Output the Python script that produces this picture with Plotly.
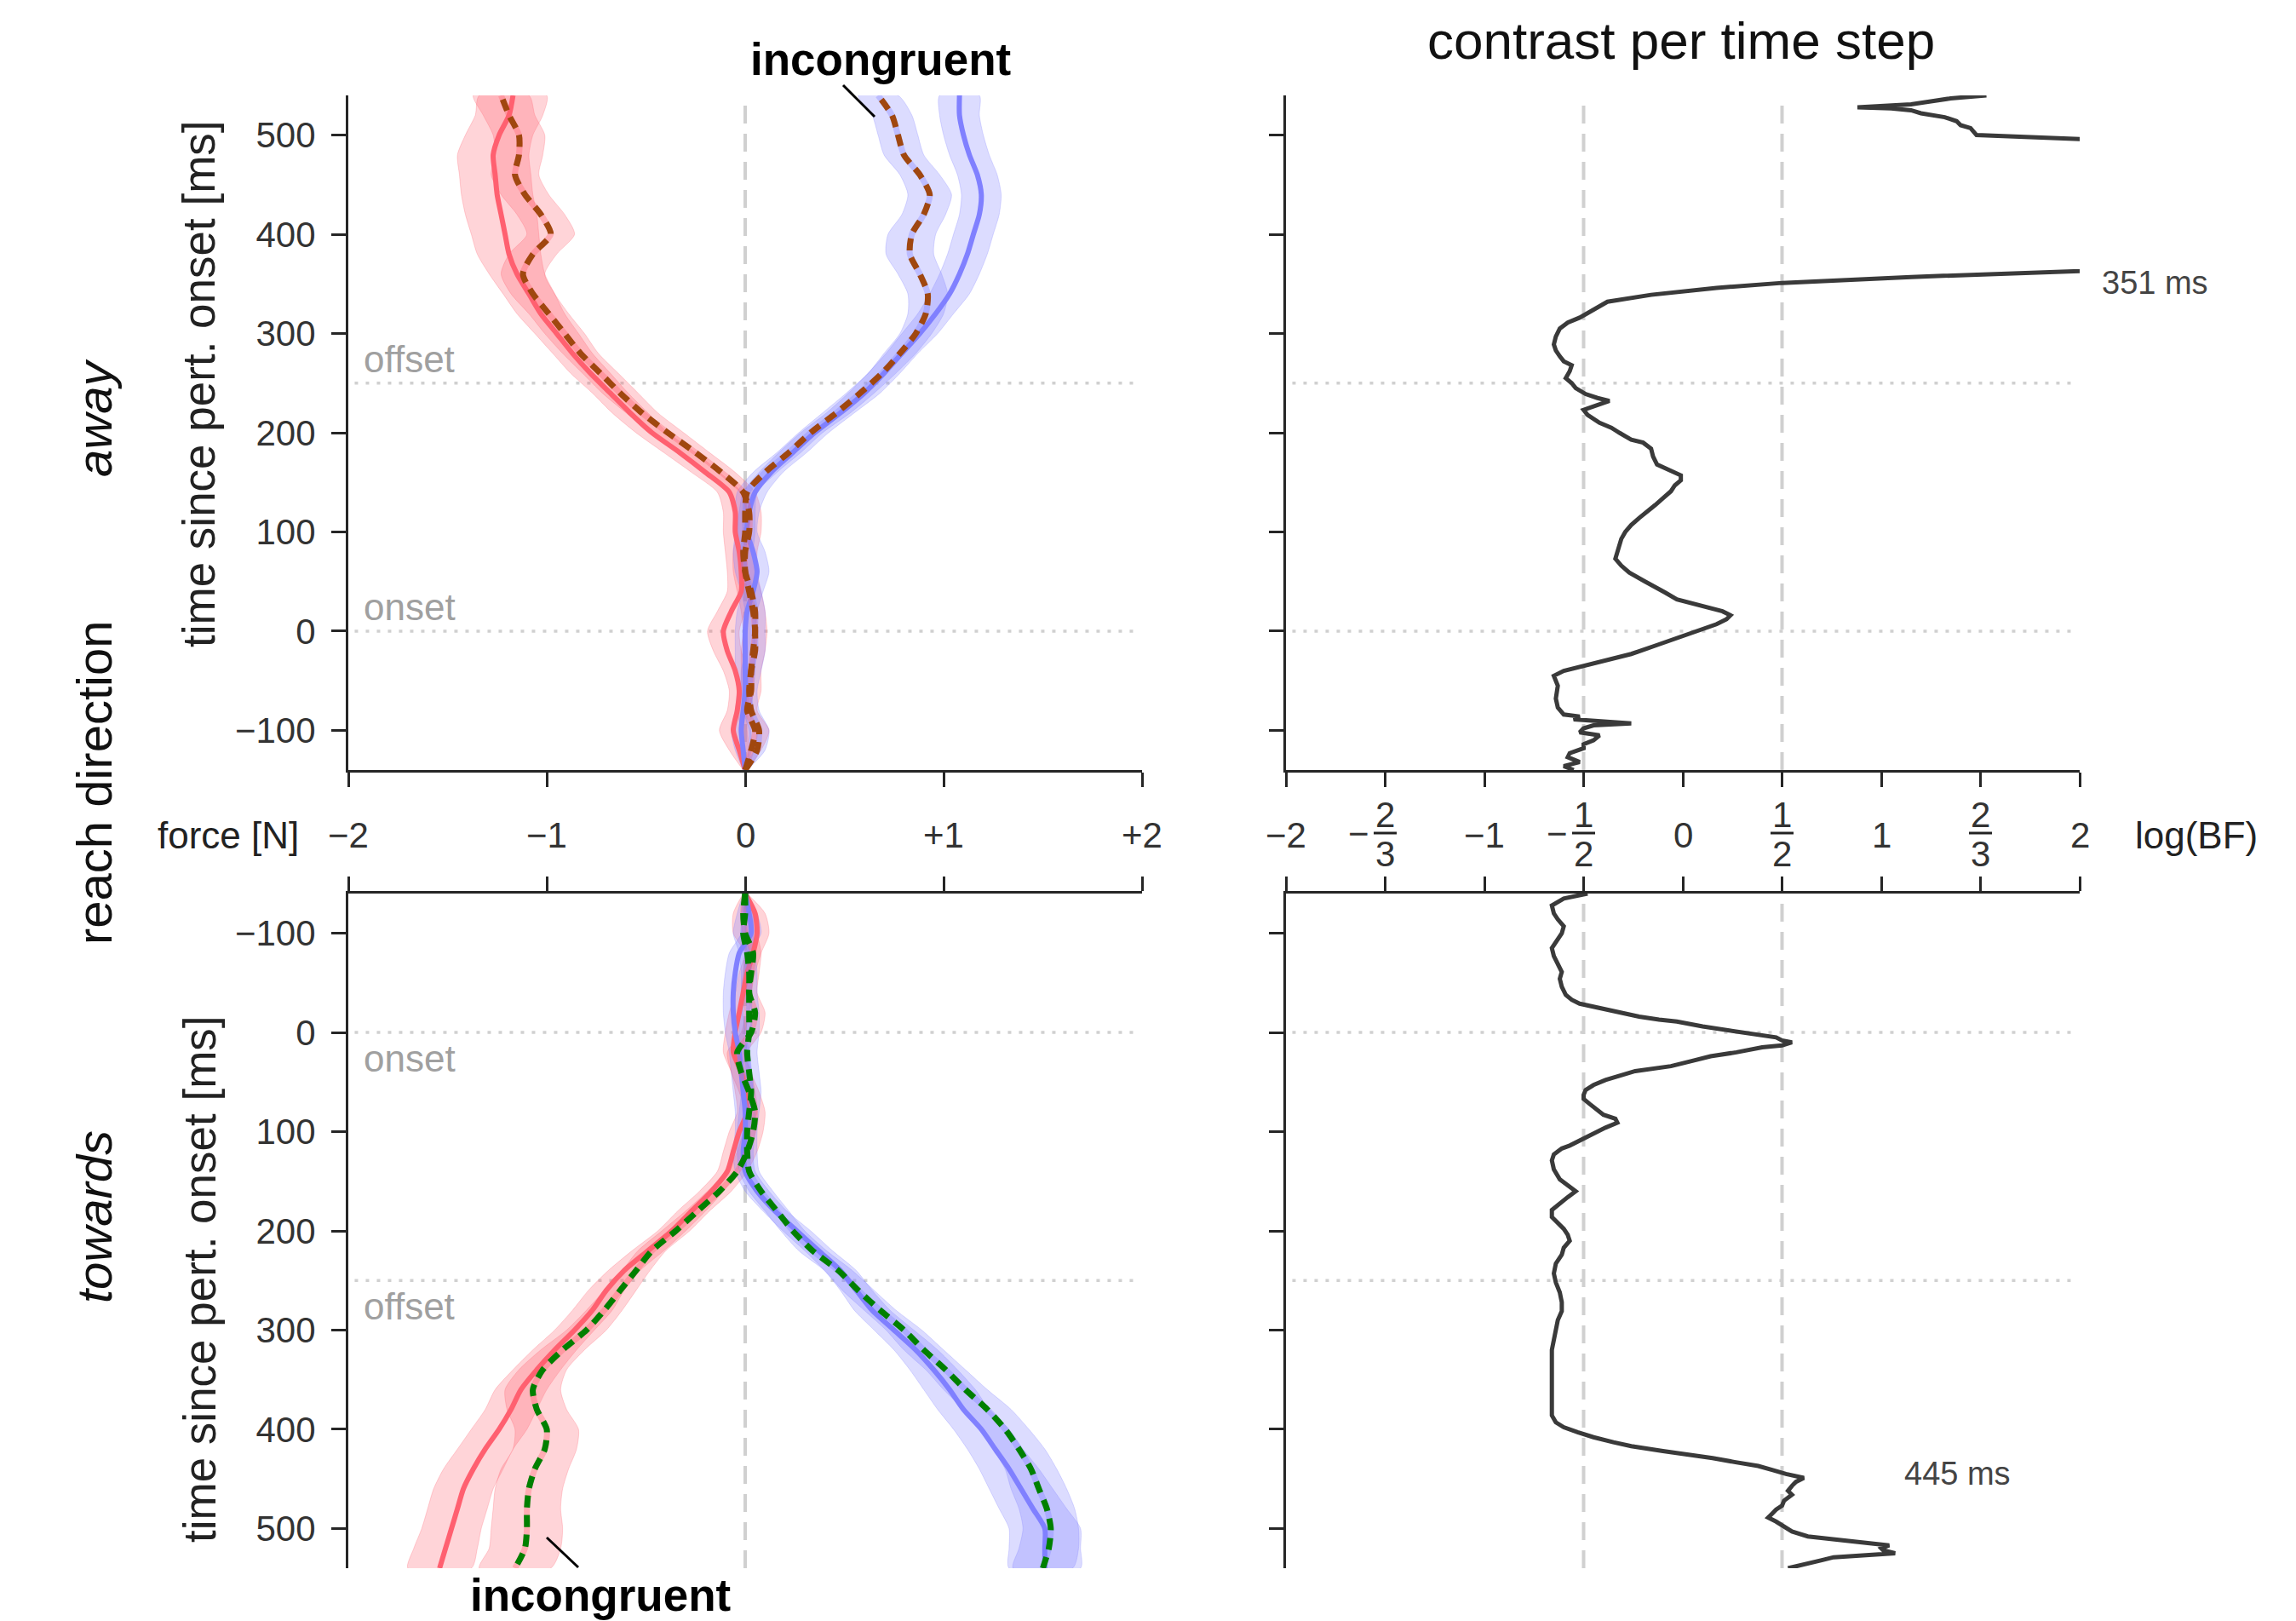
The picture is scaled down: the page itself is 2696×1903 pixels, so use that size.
import plotly.graph_objects as go

W, H = 2696, 1903
FONT = "Liberation Sans, Arial, sans-serif"

# ---------------- data ----------------
# time grid (ms since perturbation onset) for force traces
T = [-140, -120, -100, -80, -60, -40, -20, 0, 20, 40, 60, 80, 100, 120, 140, 160, 180, 200, 220,
     240, 260, 280, 300, 320, 340, 360, 380, 400, 420, 440, 460, 480, 500, 520, 540]

# reach direction "away": force [N]
away_red_cong = [0.0, -0.03, -0.06, -0.04, -0.03, -0.05, -0.09, -0.11, -0.07, -0.02, -0.02, -0.03, -0.05, -0.05,
                 -0.08, -0.2, -0.33, -0.47, -0.58, -0.68, -0.78, -0.87, -0.95, -1.03, -1.09, -1.15, -1.19, -1.21,
                 -1.23, -1.25, -1.26, -1.27, -1.24, -1.19, -1.17]
away_red_incong = [0.0, 0.03, 0.05, 0.01, 0.03, 0.03, 0.04, 0.05, 0.04, 0.02, 0.0, 0.0, 0.02, 0.02, -0.01, -0.12,
                   -0.25, -0.39, -0.52, -0.63, -0.73, -0.83, -0.91, -0.99, -1.07, -1.12, -1.07, -0.98, -1.03, -1.11,
                   -1.16, -1.14, -1.14, -1.19, -1.23]
away_blue_cong = [0.0, -0.01, -0.02, -0.01, 0.0, 0.0, 0.0, 0.0, 0.01, 0.04, 0.06, 0.04, 0.01, 0.02, 0.05, 0.13, 0.24,
                  0.35, 0.48, 0.6, 0.7, 0.79, 0.88, 0.96, 1.03, 1.08, 1.12, 1.15, 1.18, 1.19, 1.17, 1.13, 1.1, 1.08,
                  1.08]
away_blue_incong = [0.0, 0.06, 0.07, 0.03, 0.02, 0.03, 0.05, 0.05, 0.05, 0.03, 0.0, -0.01, 0.0, 0.0, 0.01, 0.1, 0.22,
                    0.33, 0.46, 0.58, 0.69, 0.78, 0.86, 0.91, 0.92, 0.88, 0.83, 0.84, 0.9, 0.93, 0.88, 0.8, 0.77,
                    0.74, 0.67]
# confidence half-widths [N]
away_red_cong_ci = [0.01, 0.05, 0.07, 0.05, 0.05, 0.06, 0.07, 0.08, 0.07, 0.07, 0.07, 0.07, 0.06, 0.06, 0.06, 0.07,
                    0.08, 0.08, 0.09, 0.09, 0.1, 0.1, 0.11, 0.12, 0.13, 0.14, 0.16, 0.17, 0.18, 0.18, 0.18, 0.18,
                    0.17, 0.17, 0.17]
away_red_incong_ci = [0.01, 0.05, 0.07, 0.05, 0.05, 0.05, 0.06, 0.06, 0.06, 0.06, 0.06, 0.06, 0.06, 0.06, 0.06, 0.07,
                      0.07, 0.08, 0.08, 0.09, 0.09, 0.09, 0.1, 0.1, 0.11, 0.11, 0.12, 0.12, 0.12, 0.12, 0.12, 0.12,
                      0.13, 0.13, 0.14]
away_blue_cong_ci = [0.01, 0.04, 0.05, 0.04, 0.04, 0.05, 0.05, 0.05, 0.05, 0.05, 0.06, 0.06, 0.05, 0.05, 0.06, 0.06,
                     0.07, 0.07, 0.07, 0.08, 0.08, 0.08, 0.09, 0.09, 0.1, 0.1, 0.1, 0.1, 0.1, 0.1, 0.1, 0.1, 0.1,
                     0.1, 0.1]
away_blue_incong_ci = [0.01, 0.04, 0.05, 0.04, 0.04, 0.05, 0.05, 0.05, 0.05, 0.05, 0.05, 0.05, 0.05, 0.05, 0.05,
                       0.06, 0.06, 0.06, 0.07, 0.07, 0.07, 0.08, 0.08, 0.09, 0.1, 0.11, 0.12, 0.12, 0.11, 0.11, 0.1,
                       0.1, 0.1, 0.1, 0.1]

# reach direction "towards": force [N]
tow_red_cong = [0.0, 0.05, 0.06, 0.04, 0.01, -0.01, -0.03, -0.05, -0.06, -0.02, 0.0, 0.01, -0.03, -0.06, -0.09,
                -0.17, -0.27, -0.37, -0.49, -0.61, -0.7, -0.77, -0.86, -0.96, -1.05, -1.13, -1.18, -1.24, -1.31,
                -1.37, -1.42, -1.45, -1.48, -1.51, -1.54]
tow_red_incong = [0.0, -0.01, 0.0, 0.04, 0.03, 0.02, 0.05, 0.03, -0.04, -0.02, 0.02, 0.05, 0.04, 0.01, -0.04, -0.13,
                  -0.24, -0.35, -0.47, -0.55, -0.63, -0.71, -0.8, -0.92, -1.02, -1.07, -1.05, -1.0, -1.01, -1.06,
                  -1.09, -1.1, -1.1, -1.11, -1.16]
tow_blue_cong = [0.0, 0.02, 0.03, -0.03, -0.05, -0.06, -0.06, -0.05, -0.03, -0.02, -0.01, 0.0, 0.0, -0.01, 0.0, 0.06,
                 0.15, 0.26, 0.37, 0.48, 0.56, 0.64, 0.75, 0.86, 0.95, 1.03, 1.1, 1.19, 1.26, 1.33, 1.39, 1.45, 1.51,
                 1.51, 1.51]
tow_blue_incong = [0.0, 0.0, -0.01, 0.01, 0.02, 0.02, 0.02, 0.02, 0.01, 0.02, 0.03, 0.02, 0.01, 0.01, 0.02, 0.08,
                   0.16, 0.24, 0.34, 0.47, 0.57, 0.68, 0.8, 0.9, 1.01, 1.11, 1.22, 1.31, 1.38, 1.44, 1.48, 1.52, 1.54,
                   1.53, 1.5]
tow_red_cong_ci = [0.01, 0.05, 0.06, 0.04, 0.04, 0.04, 0.05, 0.05, 0.05, 0.05, 0.05, 0.05, 0.05, 0.05, 0.05, 0.06,
                   0.07, 0.07, 0.08, 0.08, 0.09, 0.1, 0.1, 0.11, 0.12, 0.13, 0.13, 0.14, 0.14, 0.15, 0.15, 0.15, 0.15,
                   0.16, 0.16]
tow_red_incong_ci = [0.01, 0.05, 0.06, 0.04, 0.04, 0.04, 0.05, 0.05, 0.05, 0.05, 0.05, 0.05, 0.05, 0.05, 0.05, 0.06,
                     0.06, 0.07, 0.07, 0.07, 0.08, 0.09, 0.1, 0.11, 0.12, 0.14, 0.15, 0.16, 0.16, 0.17, 0.17, 0.17,
                     0.18, 0.18, 0.18]
tow_blue_cong_ci = [0.01, 0.04, 0.05, 0.05, 0.05, 0.05, 0.05, 0.05, 0.05, 0.05, 0.05, 0.05, 0.05, 0.05, 0.05, 0.06,
                    0.06, 0.07, 0.07, 0.08, 0.08, 0.09, 0.1, 0.11, 0.12, 0.13, 0.13, 0.14, 0.14, 0.15, 0.16, 0.17,
                    0.18, 0.18, 0.18]
tow_blue_incong_ci = [0.01, 0.04, 0.05, 0.04, 0.04, 0.04, 0.05, 0.05, 0.05, 0.05, 0.05, 0.05, 0.05, 0.05, 0.05, 0.06,
                      0.06, 0.06, 0.07, 0.07, 0.08, 0.08, 0.09, 0.1, 0.1, 0.11, 0.12, 0.12, 0.13, 0.13, 0.14, 0.14,
                      0.14, 0.15, 0.15]

# contrast per time step, log(BF) -- "away"
away_bf_t = [-140, -136, -132, -127, -123, -118, -114, -110, -105, -102, -98, -95, -93, -91, -89, -86, -84, -77, -68,
             -55, -45, -40, -36, -30, -23, -14, -5, 3, 7, 12, 16, 20, 23, 28, 32, 39, 45, 50, 59, 66, 73, 80, 86, 93,
             100, 107, 114, 120, 127, 134, 141, 147, 152, 157, 162, 168, 176, 184, 190, 193, 200, 205, 210, 214, 218,
             223, 228, 232, 235, 239, 245, 250, 255, 262, 268, 272, 277, 283, 289, 297, 305, 311, 316, 322, 327, 332,
             339, 346, 351, 357, 363, 370, 400, 450, 490, 496, 500, 504, 507, 510, 514, 518, 522, 525, 527, 528, 531,
             534, 537, 540]
away_bf_v = [-0.55, -0.6, -0.52, -0.58, -0.57, -0.5, -0.5, -0.45, -0.42, -0.52, -0.5, -0.45, -0.26, -0.45, -0.55,
             -0.52, -0.6, -0.63, -0.64, -0.63, -0.65, -0.6, -0.52, -0.42, -0.26, -0.13, 0.0, 0.12, 0.17, 0.22, 0.24,
             0.2, 0.14, 0.05, -0.03, -0.09, -0.14, -0.19, -0.27, -0.31, -0.34, -0.33, -0.32, -0.31, -0.29, -0.26,
             -0.22, -0.18, -0.14, -0.1, -0.06, -0.04, -0.01, -0.01, -0.06, -0.13, -0.15, -0.16, -0.2, -0.26, -0.32,
             -0.36, -0.42, -0.45, -0.48, -0.5, -0.42, -0.37, -0.43, -0.49, -0.54, -0.56, -0.59, -0.57, -0.56, -0.6,
             -0.62, -0.64, -0.65, -0.64, -0.62, -0.58, -0.52, -0.47, -0.42, -0.38, -0.16, 0.17, 0.5, 1.15, 2.0, 2.6,
             3.2, 3.2, 2.4, 2.0, 1.48, 1.46, 1.45, 1.4, 1.38, 1.32, 1.2, 1.15, 1.05, 0.88, 1.15, 1.25, 1.35, 1.53]
# contrast per time step, log(BF) -- "towards"
tow_bf_t = [-140, -139, -135, -128, -120, -114, -107, -100, -92, -85, -77, -69, -61, -54, -46, -38, -33, -29, -26,
            -23, -19, -16, -13, -11, -6, -2, 2, 5, 8, 10, 13, 15, 20, 24, 29, 34, 39, 44, 48, 53, 58, 63, 67, 72, 77,
            83, 87, 91, 96, 103, 110, 114, 117, 123, 129, 138, 148, 155, 160, 166, 172, 179, 186, 192, 198, 204, 210,
            217, 224, 233, 243, 252, 262, 272, 281, 290, 300, 320, 343, 365, 386, 393, 398, 403, 408, 413, 417, 422,
            426, 429, 433, 437, 441, 445, 449, 453, 457, 462, 466, 472, 477, 481, 485, 489, 493, 498, 503, 508, 512,
            515, 517, 520, 522, 525, 527, 529, 532, 534, 537, 540]
tow_bf_v = [-0.48, -0.5, -0.6, -0.66, -0.65, -0.63, -0.6, -0.61, -0.64, -0.66, -0.65, -0.63, -0.61, -0.62, -0.61,
            -0.59, -0.56, -0.52, -0.45, -0.36, -0.28, -0.22, -0.12, -0.03, 0.1, 0.24, 0.36, 0.47, 0.5, 0.55, 0.5,
            0.4, 0.27, 0.14, 0.04, -0.06, -0.24, -0.33, -0.39, -0.45, -0.49, -0.5, -0.5, -0.47, -0.44, -0.4, -0.34,
            -0.33, -0.39, -0.46, -0.52, -0.57, -0.61, -0.65, -0.66, -0.65, -0.62, -0.57, -0.54, -0.58, -0.62, -0.66,
            -0.66, -0.63, -0.6, -0.58, -0.57, -0.6, -0.61, -0.64, -0.65, -0.64, -0.62, -0.61, -0.61, -0.63, -0.64,
            -0.66, -0.66, -0.66, -0.66, -0.64, -0.6, -0.53, -0.45, -0.35, -0.26, -0.1, 0.05, 0.15, 0.26, 0.38, 0.45,
            0.52, 0.61, 0.57, 0.55, 0.53, 0.55, 0.51, 0.5, 0.47, 0.45, 0.43, 0.47, 0.51, 0.55, 0.63, 0.83, 0.98, 1.04,
            1.0, 1.01, 1.07, 0.9, 0.76, 0.7, 0.66, 0.6, 0.53]

# tick labels
Y_TICKS = [-100, 0, 100, 200, 300, 400, 500]
Y_TICKTEXT = ["\u2212100", "0", "100", "200", "300", "400", "500"]
F_TICKS = [-2, -1, 0, 1, 2]
F_TICKTEXT = ["\u22122", "\u22121", "0", "+1", "+2"]
BF_TICKS = [-2, -1.5, -1, -0.5, 0, 0.5, 1, 1.5, 2]
BF_NUM = ["\u22122", "2", "\u22121", "1", "0", "1", "1", "2", "2"]
BF_DEN = [None, "3", None, "2", None, "2", None, "3", None]
BF_SIGN = ["", "\u2212", "", "\u2212", "", "", "", "", ""]
EVENTS = [0, 250]
EVENT_NAMES = ["onset", "offset"]
CROSS_AWAY = 351
CROSS_TOW = 445

# ---------------- styling ----------------
RED = "#ff6070"
RED_BAND = "rgba(255,96,112,0.27)"
BLUE = "#8080ff"
BLUE_BAND = "rgba(128,128,255,0.28)"
BROWN = "#a0470f"
GREEN = "#008000"
DARK = "#3a3a3a"
AX = "#262626"
REF = "#d0d0d0"

LX = [409 / W, 1341 / W]
RX = [1510 / W, 2442 / W]
TY = [1 - 904 / H, 1 - 112 / H]
BY = [1 - 1841 / H, 1 - 1049 / H]


def P(px):
    return px / W


def Q(py):
    return 1 - py / H


fig = go.Figure()


def band(xm, ci, xa, ya, color):
    lo = [m - d for m, d in zip(xm, ci)]
    hi = [m + d for m, d in zip(xm, ci)]
    fig.add_trace(go.Scatter(x=lo + hi[::-1], y=T + T[::-1], mode="lines", fill="toself", fillcolor=color,
                             line=dict(width=1, color=color, shape="spline", smoothing=0.7),
                             hoverinfo="skip", showlegend=False, xaxis=xa, yaxis=ya))


def curve(xm, xa, ya, color, width, dash=None):
    fig.add_trace(go.Scatter(x=xm, y=T, mode="lines",
                             line=dict(width=width, color=color, dash=dash, shape="spline", smoothing=0.7),
                             hoverinfo="skip", showlegend=False, xaxis=xa, yaxis=ya))


panels = [
    ("x", "y", away_red_cong, away_red_cong_ci, away_red_incong, away_red_incong_ci,
     away_blue_cong, away_blue_cong_ci, away_blue_incong, away_blue_incong_ci, BROWN),
    ("x2", "y2", tow_red_cong, tow_red_cong_ci, tow_red_incong, tow_red_incong_ci,
     tow_blue_cong, tow_blue_cong_ci, tow_blue_incong, tow_blue_incong_ci, GREEN),
]
for xa, ya, rc, rcw, ri, riw, bc, bcw, bi, biw, dcol in panels:
    band(rc, rcw, xa, ya, RED_BAND)
    band(ri, riw, xa, ya, RED_BAND)
    band(bc, bcw, xa, ya, BLUE_BAND)
    band(bi, biw, xa, ya, BLUE_BAND)
    curve(rc, xa, ya, RED, 6)
    curve(bc, xa, ya, BLUE, 6)
    curve(ri, xa, ya, "rgba(255,96,112,0.35)", 7)
    curve(bi, xa, ya, "rgba(128,128,255,0.35)", 7)
    curve(ri, xa, ya, dcol, 7, "14px,9px")
    curve(bi, xa, ya, dcol, 7, "14px,9px")

fig.add_trace(go.Scatter(x=away_bf_v, y=away_bf_t, mode="lines", line=dict(color=DARK, width=5),
                         hoverinfo="skip", showlegend=False, xaxis="x3", yaxis="y3"))
fig.add_trace(go.Scatter(x=tow_bf_v, y=tow_bf_t, mode="lines", line=dict(color=DARK, width=5),
                         hoverinfo="skip", showlegend=False, xaxis="x4", yaxis="y4"))

# ---------------- axes ----------------
common = dict(showline=True, linecolor=AX, linewidth=3, ticks="outside", ticklen=17, tickwidth=2.5,
              tickcolor=AX, showgrid=False, zeroline=False, fixedrange=True)
yfont = dict(family=FONT, size=42, color="#333333")
fig.update_layout(
    xaxis=dict(domain=LX, anchor="y", range=[-2, 2], tickvals=F_TICKS, showticklabels=False, side="bottom",
               **common),
    yaxis=dict(domain=TY, anchor="x", range=[-140, 540], tickvals=Y_TICKS, ticktext=Y_TICKTEXT, tickfont=yfont,
               ticklabelstandoff=10, **common),
    xaxis2=dict(domain=LX, anchor="y2", range=[-2, 2], tickvals=F_TICKS, showticklabels=False, side="top",
                **common),
    yaxis2=dict(domain=BY, anchor="x2", range=[540, -140], tickvals=Y_TICKS, ticktext=Y_TICKTEXT, tickfont=yfont,
                ticklabelstandoff=10, **common),
    xaxis3=dict(domain=RX, anchor="y3", range=[-2, 2], tickvals=BF_TICKS, showticklabels=False, side="bottom",
                **common),
    yaxis3=dict(domain=TY, anchor="x3", range=[-140, 540], tickvals=Y_TICKS, showticklabels=False, **common),
    xaxis4=dict(domain=RX, anchor="y4", range=[-2, 2], tickvals=BF_TICKS, showticklabels=False, side="top",
                **common),
    yaxis4=dict(domain=BY, anchor="x4", range=[540, -140], tickvals=Y_TICKS, showticklabels=False, **common),
)

# ---------------- reference lines ----------------
shapes = []
for xa, ya, vx in [("x", "y", [0]), ("x2", "y2", [0]), ("x3", "y3", [-0.5, 0.5]), ("x4", "y4", [-0.5, 0.5])]:
    for v in vx:
        shapes.append(dict(type="line", xref=xa, yref=ya + " domain", x0=v, x1=v, y0=0, y1=1, layer="below",
                           line=dict(color=REF, width=4, dash="21px,12px")))
    for e in EVENTS:
        shapes.append(dict(type="line", xref=xa + " domain", yref=ya, x0=0.008, x1=0.995, y0=e, y1=e,
                           layer="below", line=dict(color=REF, width=3.5, dash="4px,9px")))

# leader lines for "incongruent" labels
shapes.append(dict(type="line", xref="paper", yref="paper", x0=P(990), y0=Q(100), x1=P(1027), y1=Q(137),
                   line=dict(color="black", width=3)))
shapes.append(dict(type="line", xref="paper", yref="paper", x0=P(642), y0=Q(1805), x1=P(679), y1=Q(1840),
                   line=dict(color="black", width=3)))

# fraction bars on log(BF) tick labels
for v, den in zip(BF_TICKS, BF_DEN):
    if den is not None:
        shapes.append(dict(type="line", xref="x3", xsizemode="pixel", xanchor=v, x0=-13.5, x1=13.5,
                           yref="paper", y0=Q(978), y1=Q(978), line=dict(color="#222222", width=3)))

# ---------------- text ----------------
ann = []


def text(x, y, s, size, color="#222222", xref="paper", yref="paper", angle=0, xanchor="center",
         yanchor="middle", xshift=0, yshift=0):
    ann.append(dict(x=x, y=y, xref=xref, yref=yref, text=s, showarrow=False, textangle=angle,
                    xanchor=xanchor, yanchor=yanchor, xshift=xshift, yshift=yshift,
                    font=dict(family=FONT, size=size, color=color)))


# x tick labels between the panels
for v, s in zip(F_TICKS, F_TICKTEXT):
    text(v, Q(980), s, 42, "#333333", xref="x")
for v, num, den, sg in zip(BF_TICKS, BF_NUM, BF_DEN, BF_SIGN):
    if den is None:
        text(v, Q(980), num, 42, "#333333", xref="x3")
    else:
        text(v, Q(956), num, 42, "#333333", xref="x3")
        text(v, Q(1002), den, 42, "#333333", xref="x3")
        if sg:
            text(v, Q(978), sg, 42, "#333333", xref="x3", xshift=-31)
text(P(268), Q(980), "force [N]", 44)
text(P(2579), Q(980), "log(BF)", 44)

# axis titles and row labels
text(P(234), Q(451), "time since pert. onset [ms]", 53, angle=-90)
text(P(234), Q(1502), "time since pert. onset [ms]", 53, angle=-90)
text(P(110), Q(491), "<i>away</i>", 58, "#111111", angle=-90)
text(P(110), Q(919), "reach direction", 58, "#111111", angle=-90)
text(P(110), Q(1429), "<i>towards</i>", 58, "#111111", angle=-90)

# title and labels
text(P(1974), Q(48), "contrast per time step", 62, "#111111")
text(P(1034), Q(70), "<b>incongruent</b>", 53, "#000000")
text(P(705), Q(1872), "<b>incongruent</b>", 53, "#000000")

# onset / offset labels
text(-2, EVENTS[1], EVENT_NAMES[1], 44, "#a0a0a0", xref="x", yref="y", xanchor="left", yanchor="bottom",
     xshift=16, yshift=2)
text(-2, EVENTS[0], EVENT_NAMES[0], 44, "#a0a0a0", xref="x", yref="y", xanchor="left", yanchor="bottom",
     xshift=16, yshift=2)
text(-2, EVENTS[0], EVENT_NAMES[0], 44, "#a0a0a0", xref="x2", yref="y2", xanchor="left", yanchor="top",
     xshift=16, yshift=-4)
text(-2, EVENTS[1], EVENT_NAMES[1], 44, "#a0a0a0", xref="x2", yref="y2", xanchor="left", yanchor="top",
     xshift=16, yshift=-4)

# crossing-time labels
text(2, CROSS_AWAY, f"{CROSS_AWAY} ms", 38, "#444444", xref="x3", yref="y3", xanchor="left", xshift=24)
text(1.386, CROSS_TOW, f"{CROSS_TOW} ms", 38, "#444444", xref="x4", yref="y4")

fig.update_layout(
    width=W, height=H, margin=dict(l=0, r=0, t=0, b=0, pad=0),
    paper_bgcolor="white", plot_bgcolor="white",
    font=dict(family=FONT, color="#222222"),
    shapes=shapes, annotations=ann, showlegend=False,
)

fig.write_html("out.html")
